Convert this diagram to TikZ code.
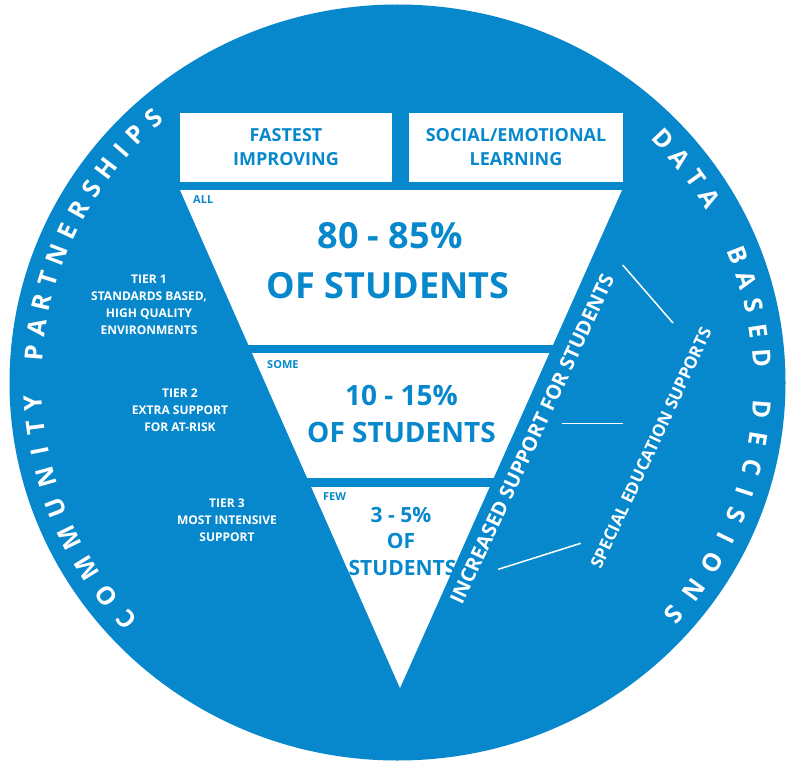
\documentclass[tikz,border=0pt]{standalone}
\usepackage{fontspec}
\setmainfont{Open Sans}
\definecolor{rtiblue}{RGB}{8,136,204}

\begin{document}
\begin{tikzpicture}[
  x = 1pt, y = -1pt,
  every node/.style = {inner sep = 0pt, font = \bfseries},
  header/.style = {fill = white, text = rtiblue, align = center, minimum height = 69pt,
                   font = \bfseries\fontsize{18}{24}\selectfont},
  tag/.style = {text = rtiblue, anchor = base west, font = \bfseries\fontsize{11}{12}\selectfont},
  share/.style = {text = rtiblue, anchor = base},
  tier/.style = {text = white, align = center, font = \bfseries\fontsize{12}{17}\selectfont},
  arcletter/.style = {text = white, font = \bfseries\fontsize{25}{25}\selectfont},
  support/.style = {text = white, rotate = 65},
  pointer/.style = {draw = white, line width = 1.5pt},
  ]
  \fill[white] (0,0) rectangle (790,765);
  \fill[rtiblue] (397.5,382.5) ellipse [x radius = 388pt, y radius = 378pt];

  % header boxes
  \node[header, minimum width = 212pt] (fastest) at (286,147.5) {FASTEST\\IMPROVING};
  \node[header, minimum width = 214pt] (sel) at (516,147.5) {SOCIAL/EMOTIONAL\\LEARNING};

  % the pyramid
  \coordinate (top left) at (180,190);
  \coordinate (top right) at (622,190);
  \coordinate (apex) at (400,688);
  \fill[white] (top left) -- (top right) -- (apex) -- cycle;
  \fill[rtiblue] (150,345) rectangle (650,353);
  \fill[rtiblue] (150,478) rectangle (650,487);

  \node[tag] (all) at (193,203) {ALL};
  \node[tag] (some) at (267,368) {SOME};
  \node[tag] (few) at (323,500) {FEW};

  \node[share, font = \bfseries\fontsize{36}{36}\selectfont] (pct1) at (390,248) {80 - 85\%};
  \node[share, font = \bfseries\fontsize{36}{36}\selectfont] (of1) at (388,298) {OF STUDENTS};
  \node[share, font = \bfseries\fontsize{28}{28}\selectfont] (pct2) at (401.5,405) {10 - 15\%};
  \node[share, font = \bfseries\fontsize{28}{28}\selectfont] (of2) at (401.5,442) {OF STUDENTS};
  \node[share, font = \bfseries\fontsize{21}{21}\selectfont] (pct3) at (401,522) {3 - 5\%};
  \node[share, font = \bfseries\fontsize{21}{21}\selectfont] (of3) at (401,548) {OF};
  \node[share, font = \bfseries\fontsize{21}{21}\selectfont] (students3) at (402.5,575) {STUDENTS};

  % tiers
  \node[tier] (tier1) at (149,304.7) {TIER 1\\STANDARDS BASED,\\HIGH QUALITY\\ENVIRONMENTS};
  \node[tier] (tier2) at (180,410.2) {TIER 2\\EXTRA SUPPORT\\FOR AT-RISK};
  \node[tier] (tier3) at (227,520.7) {TIER 3\\MOST INTENSIVE\\SUPPORT};

  % right side
  \node[support, font = \bfseries\fontsize{20}{20}\selectfont] (increased) at (532,439)
    {INCREASED SUPPORT FOR STUDENTS};
  \node[support, font = \bfseries\fontsize{17}{17}\selectfont] (sped) at (651,448)
    {SPECIAL EDUCATION SUPPORTS};
  \coordinate (p1a) at (622.7,265);   \coordinate (p1b) at (673,323);
  \coordinate (p2a) at (561.7,423.3); \coordinate (p2b) at (622.7,423.3);
  \coordinate (p3a) at (498.3,569.3); \coordinate (p3b) at (580.7,543.3);
  \draw[pointer] (p1a) -- (p1b);
  \draw[pointer] (p2a) -- (p2b);
  \draw[pointer] (p3a) -- (p3b);

  % lettering round the rim
  \foreach \l/\a [count = \i] in {C/222.0, O/217.0, M/211.6, M/206.0, U/200.7, N/195.5,
      I/191.2, T/187.3, Y/183.3, P/175.2, A/171.1, R/167.0, T/163.0, N/158.9, E/154.8,
      R/150.9, S/147.0, H/142.9, I/139.2, P/135.8, S/131.9}
    \node[arcletter, rotate = \a - 90] (cp\i) at ({397.5 + 365*cos(\a)}, {382.5 - 355*sin(\a)}) {\l};
  \foreach \l/\a [count = \i] in {D/43.3, A/39.2, T/35.2, A/31.2, B/21.1, A/16.8, S/12.6,
      E/8.3, D/4.0, D/-4.4, E/-9.2, C/-13.9, I/-18.0, S/-22.0, I/-26.0, O/-30.5,
      N/-35.8, S/-40.8}
    \node[arcletter, rotate = \a - 90] (dbd\i) at ({397.5 + 365*cos(\a)}, {382.5 - 355*sin(\a)}) {\l};
\end{tikzpicture}
\end{document}
